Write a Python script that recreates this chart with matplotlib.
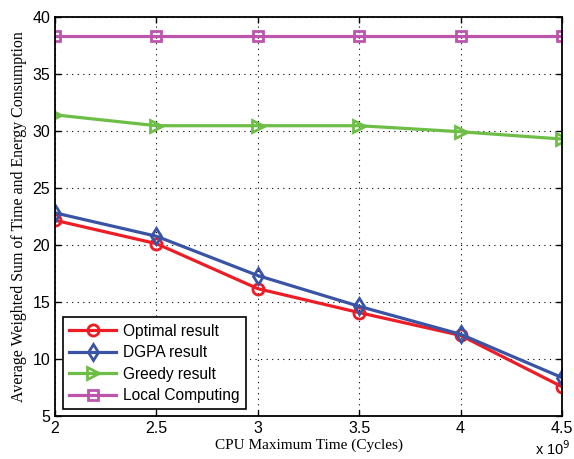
import numpy as np
import matplotlib.pyplot as plt

# data
cpu_time = [2.0, 2.5, 3.0, 3.5, 4.0, 4.5]  # x 10^9 cycles
optimal = [22.2, 20.15, 16.2, 14.1, 12.1, 7.6]
dgpa = [22.85, 20.8, 17.35, 14.65, 12.2, 8.4]
greedy = [31.45, 30.5, 30.5, 30.5, 29.97, 29.33]
local = [38.4, 38.4, 38.4, 38.4, 38.4, 38.4]

labels = ['Optimal result', 'DGPA result', 'Greedy result', 'Local Computing']
colors = ['#EE1D25', '#3A54A5', '#6CBE46', '#BC56AD']
markers = ['o', 'd', '>', 's']

fig = plt.figure(figsize=(5.74, 4.59), dpi=100)
ax = fig.add_axes([0.096, 0.093, 0.883, 0.869])

for ys, lab, c, m in zip([optimal, dgpa, greedy, local], labels, colors, markers):
    ms = 8 if m != 's' else 6.5
    ax.plot(cpu_time, ys, color=c, marker=m, markersize=ms, markerfacecolor='none',
            markeredgewidth=2, linewidth=2.3, label=lab)

ax.set_xlim(2, 4.5)
ax.set_ylim(5, 40)
ax.set_xticks(np.arange(2, 4.51, 0.5))
ax.set_xticklabels(['2', '2.5', '3', '3.5', '4', '4.5'])
ax.set_yticks(np.arange(5, 41, 5))

ax.grid(True, color='black', linestyle=(0, (1, 4)), linewidth=0.8)
ax.tick_params(direction='in', top=True, right=True, labelsize=11.5, length=4,
               width=1)
for lbl in ax.get_xticklabels() + ax.get_yticklabels():
    lbl.set_family('Liberation Sans')
for s in ax.spines.values():
    s.set_linewidth(1.3)

ax.set_xlabel('CPU Maximum Time (Cycles)', family='Liberation Serif', fontsize=11,
              labelpad=2)
ax.set_ylabel('Average Weighted Sum of Time and Energy Consumption',
              family='Liberation Serif', fontsize=11.4, labelpad=4)
fig.text(0.963, 0.003, r'x 10$^9$', ha='center', va='bottom',
         family='Liberation Sans', fontsize=10.5)

leg = ax.legend(loc='lower left', bbox_to_anchor=(0.016, 0.0175), fancybox=False,
                framealpha=1, edgecolor='black', handlelength=3.0,
                prop={'family': 'Liberation Sans', 'size': 11.2},
                borderpad=0.4, labelspacing=0.42, handletextpad=0.45,
                borderaxespad=0)
leg.get_frame().set_linewidth(1.2)

fig.savefig('out.png', dpi=100)
